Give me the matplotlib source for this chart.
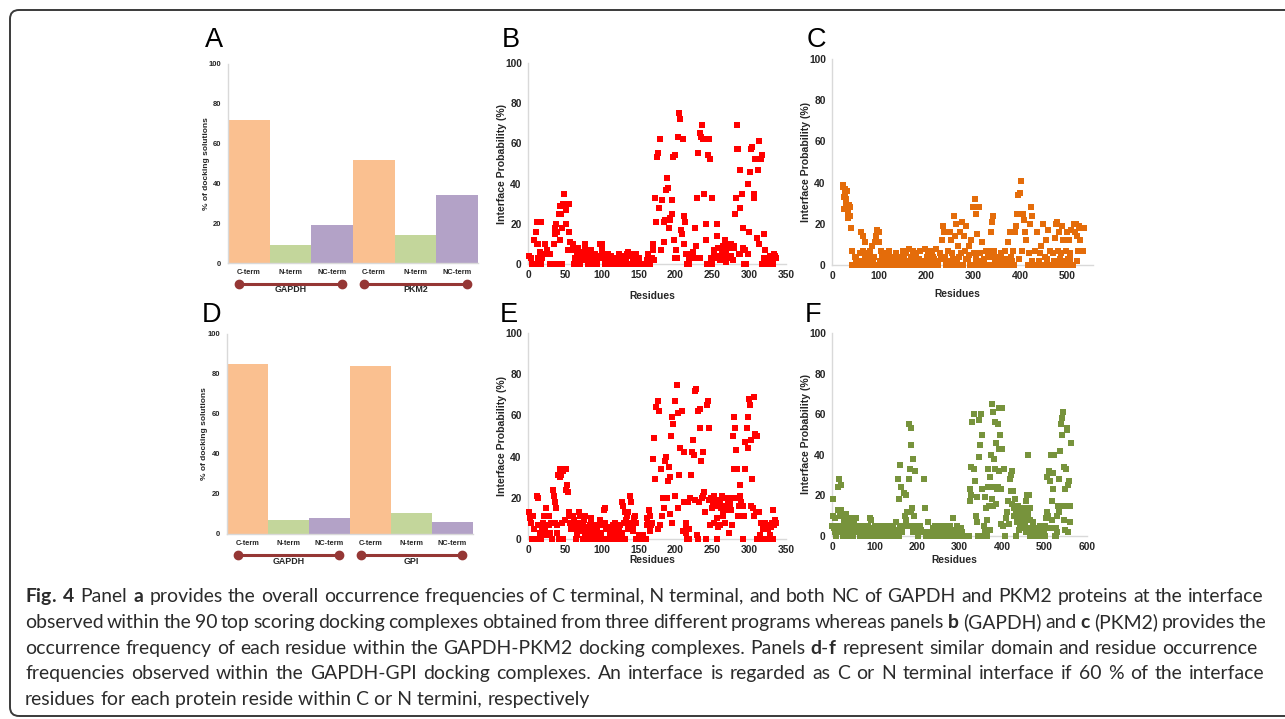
import numpy as np
import matplotlib
matplotlib.use("Agg")
import matplotlib.pyplot as plt
from matplotlib.patches import FancyBboxPatch
from matplotlib.transforms import IdentityTransform

W, H = 1285, 719
plt.rcParams['font.family'] = ['Liberation Sans', 'DejaVu Sans']
plt.rcParams['mathtext.fontset'] = 'custom'
plt.rcParams['mathtext.rm'] = 'Lato'
plt.rcParams['mathtext.bf'] = 'Lato:bold'

# ---- data ----
term_labels = ['C-term', 'N-term', 'NC-term']
bar_colors = ['#FAC090', '#C3D69B', '#B3A2C7']

a_groups = ['GAPDH', 'PKM2']
a_values = [72, 9, 19, 52, 14, 34]

d_groups = ['GAPDH', 'GPI']
d_values = [85, 7, 8, 84, 10.5, 6]

# panel B: GAPDH residues (GAPDH-PKM2)
b_pts = [(2,4),(4,3),(5,0),(10,0),(8,12),(11,16),(12,21),(17,21),(12,10),(14,10),(16,6),(14,3),(18,0),(19,3),
         (21,5),(23,10),(26,7),(27,5),(30,5),(30,0),(34,0),(35,10),(36,15),(37,18),(38,20),(40,16),(42,25),(43,12),
         (45,25),(44,29),(46,18),(42,0),(46,0),(47,30),(49,35),(51,30),(52,20),(52,27),(55,30),(56,16),(54,7),(57,11),
         (58,7),(61,10),(62,8),(64,3),(66,5),(66,2),(67,0),(70,5),(71,0),(72,3),(75,6),(77,10),(78,8),(80,3),(81,0),
         (83,5),(85,3),(88,0),(90,3),(93,0),(95,3),(98,10),(100,7),(102,5),(103,3),(105,0),(107,2),(110,0),(112,2),
         (115,0),(118,3),(121,0),(123,3),(126,4),(129,2),(131,0),(133,3),(136,6),(139,4),(142,5),(145,0),(148,2),
         (151,0),(155,0),(158,0),(161,2),(163,5),(166,3),(169,7),(170,10),(172,33),(173,21),(175,53),(176,55),(178,28),
         (179,62),(181,7),(182,32),(184,21),(185,11),(186,22),(187,37),(188,43),(190,38),(191,18),(192,23),(193,22),
         (195,25),(196,32),(197,53),(198,12),(200,54),(201,7),(202,3),(204,63),(205,75),(206,72),(207,17),(209,15),
         (210,62),(211,24),(212,10),(213,21),(215,5),(218,2),(219,0),(220,3),(222,5),(224,6),(227,18),(228,9),(229,33),
         (231,55),(233,3),(234,65),(235,63),(236,69),(238,62),(239,35),(241,20),(242,12),(243,0),(244,54),(245,62),
         (247,52),(248,3),(249,33),(252,5),(253,7),(255,3),(256,20),(257,14),(258,8),(261,2),(263,5),(264,7),(266,2),
         (267,12),(269,5),(270,8),(272,3),(274,8),(276,10),(278,2),(280,8),(281,25),(282,33),(283,57),(284,69),(285,57),
         (287,47),(288,28),(288,5),(290,35),(291,18),(292,8),(294,7),(296,0),(298,5),(299,40),(300,16),(301,46),(303,57),
         (304,58),(306,33),(307,35),(308,52),(310,13),(312,47),(313,61),(314,10),(316,52),(317,54),(318,0),(320,15),
         (322,7),(324,0),(326,3),(328,4),(331,2),(333,0),(335,4),(336,3),
         (62,0),(68,8),(74,2),(79,5),(86,7),(91,5),(97,4),(101,10),(108,5),(113,4),(119,0),(124,5),(127,0),(134,5),
         (140,0),(143,3),(146,5),(150,3),(165,0),(168,3),(171,2),(200,3),(216,0),(225,3),(250,0),(260,4),(265,9),
         (268,1),(271,9),(275,4),(279,9),(286,5),(293,0),(320,3),(327,0),(330,4),(334,5)]

# panel C: PKM2 residues (GAPDH-PKM2)
c_pts = [(23,39),(27,37),(28,34),(26,27),(30,32),(33,25),(34,23),(36,29),(39,28),(38,24),(41,18),(43,7),(43,0),
         (48,4),(53,0),(59,6),(62,16),(65,14),(66,7),(67,0),(71,11),(73,6),(77,4),(80,7),(84,9),(87,3),(91,11),(93,14),
         (96,17),(99,16),(100,0),(101,11),(105,7),(107,4),(110,0),(114,6),(117,3),(121,7),(124,0),(128,4),(132,2),
         (137,6),(140,0),(144,4),(150,7),(152,2),(157,6),(160,0),(164,8),(169,4),(172,7),(176,0),(179,6),(184,3),
         (188,7),(192,0),(197,8),(201,4),(204,7),(208,0),(212,7),(216,3),(221,8),(226,0),(229,6),(233,12),(235,19),
         (238,16),(240,4),(243,0),(247,7),(250,16),(254,12),(256,6),(259,24),(261,14),(263,20),(266,3),(268,9),(272,16),
         (274,6),(277,21),(280,14),(282,7),(286,19),(289,3),(291,9),(294,0),(296,12),(299,28),(301,6),(304,32),(307,25),
         (309,15),(312,28),(314,6),(318,11),(320,0),(323,3),(327,7),(330,0),(332,4),(335,7),(338,16),(340,21),(343,24),
         (345,7),(347,3),(350,0),(353,4),(357,0),(360,6),(364,3),(367,7),(371,0),(374,11),(378,16),(381,4),(385,7),
         (389,16),(392,19),(394,25),(396,34),(399,35),(401,41),(404,7),(406,25),(408,22),(411,16),(413,12),(416,0),
         (418,6),(421,20),(423,28),(425,24),(428,0),(431,7),(435,16),(438,0),(442,6),(445,9),(449,20),(452,4),(455,12),
         (457,0),(460,17),(463,7),(467,0),(470,6),(474,13),(476,20),(479,21),(481,7),(483,16),(486,6),(489,19),(491,12),
         (494,0),(497,7),(499,16),(502,3),(504,12),(507,6),(509,17),(511,0),(514,20),(516,16),(518,20),(521,14),(523,7),
         (525,19),(528,12),(530,18),(534,7),(535,18),
         (25,33),(29,30),(31,36),(35,27),(24,38),
         (45,0),(50,3),(56,0),(60,2),(63,0),(70,3),(75,0),(82,2),(85,0),(90,4),(95,0),(103,2),(112,0),(115,3),(119,0),
         (126,2),(130,0),(134,3),(138,0),(142,2),(147,0),(154,3),(162,2),(166,0),(174,3),(182,0),(186,3),(190,2),
         (195,0),(199,2),(206,3),(210,0),(214,4),(218,2),(223,0),(231,3),(245,2),(252,0),(258,3),(265,0),(270,4),
         (279,0),(284,3),(292,5),(298,0),(306,3),(311,0),(316,2),(325,0),(340,0),(344,4),(355,2),(362,0),(369,3),
         (376,0),(383,2),(388,0),(398,3),(420,0),(425,2),(432,0),(440,2),(447,0),(458,3),(465,0),(472,2),(480,0),
         (485,3),(492,2),(500,0),(506,3),(513,0),(520,2)]

# panel E: GAPDH residues (GAPDH-GPI)
e_pts = [(2,13),(3,10),(4,8),(5,0),(8,5),(10,0),(12,21),(14,20),(13,7),(16,3),(18,0),(19,5),(20,8),(22,11),(23,5),
         (25,15),(26,11),(27,2),(28,7),(29,11),(30,3),(33,0),(34,24),(35,21),(36,8),(37,18),(38,15),(39,7),(41,31),
         (42,0),(43,30),(44,34),(45,31),(46,8),(47,0),(48,33),(49,34),(51,24),(52,34),(53,26),(54,23),(55,11),(56,13),
         (57,8),(60,7),(61,11),(63,5),(65,8),(65,0),(67,5),(69,13),(71,11),(72,7),(74,0),(75,8),(77,3),(78,11),(80,5),
         (81,0),(84,7),(85,8),(87,3),(89,0),(91,5),(93,7),(96,0),(98,2),(100,7),(103,14),(105,15),(106,5),(108,0),
         (111,3),(112,5),(115,7),(117,0),(120,5),(122,2),(124,5),(126,0),(127,18),(129,16),(130,8),(131,13),(132,0),
         (134,11),(135,5),(137,7),(139,21),(140,18),(141,8),(143,7),(145,11),(146,8),(148,0),(150,2),(153,0),(156,2),
         (159,0),(161,7),(163,8),(164,14),(165,11),(166,4),(167,7),(168,8),(170,39),(171,49),(172,29),(174,64),(176,67),
         (177,5),(178,62),(179,7),(181,34),(182,11),(183,20),(185,15),(186,38),(187,40),(188,20),(190,28),(191,35),
         (192,30),(193,12),(194,50),(195,59),(196,8),(197,56),(199,21),(200,67),(202,75),(203,61),(204,15),(205,31),
         (206,44),(209,62),(210,4),(211,42),(212,18),(214,8),(215,3),(215,7),(217,18),(218,5),(220,20),(221,31),(223,42),
         (224,48),(225,41),(227,72),(228,73),(229,2),(230,62),(232,18),(233,63),(234,54),(235,38),(237,21),(238,42),
         (239,23),(240,13),(242,0),(243,65),(244,67),(245,54),(247,7),(248,20),(250,15),(252,21),(253,8),(255,16),
         (256,10),(257,0),(259,19),(261,7),(262,15),(263,21),(264,11),(266,20),(267,8),(269,16),(270,15),(272,3),
         (274,17),(275,20),(277,7),(278,50),(279,34),(280,59),(281,54),(282,43),(283,34),(284,20),(285,11),(287,26),
         (288,21),(289,18),(290,16),(291,0),(293,11),(294,34),(295,47),(297,54),(298,59),(299,44),(300,68),(301,65),
         (303,48),(304,29),(305,15),(306,11),(307,69),(308,51),(310,50),(311,0),(313,13),(315,2),(316,8),(318,0),
         (319,5),(322,8),(323,0),(325,5),(327,7),(328,2),(331,8),(333,14),(334,7),(336,8),
         (7,11),(15,0),(21,2),(31,8),(40,3),(50,9),(58,5),(62,9),(66,2),(70,8),(73,4),(76,9),(79,2),(82,6),(86,10),
         (88,5),(90,2),(94,5),(97,9),(99,3),(101,0),(104,8),(110,6),(114,2),(118,8),(121,0),(125,7),(128,3),(133,9),
         (136,13),(142,4),(144,10),(147,0),(151,0),(155,1),(158,0),(160,0),(162,10),(216,0),(219,0),(226,19),(231,0),
         (236,20),(241,0),(246,19),(251,17),(254,19),(258,6),(260,17),(265,13),(268,14),(271,18),(273,20),(276,14),
         (286,16),(292,16),(302,16),(309,13),(317,0),(321,0),(326,0),(329,6),(332,0),(335,9)]

# panel F: GPI residues (GAPDH-GPI)
f_pts = [(2,18),(5,4),(7,9),(10,0),(13,13),(15,24),(17,28),(20,25),(22,13),(24,5),(27,0),(29,9),(31,4),(34,11),
         (36,5),(38,0),(42,9),(44,4),(47,8),(49,0),(53,5),(57,9),(61,2),(65,0),(69,4),(73,5),(77,0),(81,3),(85,5),
         (89,9),(93,0),(96,4),(100,5),(104,0),(108,3),(112,5),(116,0),(120,5),(124,3),(128,0),(132,5),(136,3),(140,0),
         (144,5),(147,3),(151,7),(155,28),(158,18),(161,35),(163,24),(166,5),(169,21),(171,10),(173,20),(176,12),
         (178,5),(180,28),(182,55),(183,33),(185,53),(187,45),(189,14),(191,38),(193,10),(196,32),(198,5),(202,0),
         (206,5),(210,3),(216,28),(218,14),(222,0),(227,7),(231,0),(238,4),(242,5),(245,0),(249,5),(253,3),(257,5),
         (261,0),(265,5),(269,3),(273,0),(277,5),(281,3),(285,9),(289,0),(293,5),(296,3),(300,0),(304,4),(308,0),
         (312,0),(316,0),(320,0),(324,17),(325,23),(328,34),(330,56),(333,60),(334,33),(336,27),(340,19),(342,7),
         (345,39),(347,57),(348,45),(351,60),(352,23),(354,50),(357,5),(359,19),(362,14),(364,0),(366,24),(368,33),
         (371,29),(373,40),(376,18),(377,65),(379,61),(380,38),(383,56),(384,33),(387,46),(388,23),(391,55),(392,43),
         (394,63),(396,50),(398,23),(400,63),(402,5),(404,33),(406,0),(410,9),(414,17),(418,28),(421,30),(423,32),
         (426,22),(428,14),(431,18),(434,0),(436,7),(438,15),(442,5),(444,12),(446,4),(449,10),(452,14),(454,5),
         (456,17),(459,20),(460,40),(462,4),(465,14),(467,0),(471,4),(473,7),(477,0),(481,4),(485,0),(489,5),(493,0),
         (496,3),(500,5),(503,9),(505,12),(507,29),(510,32),(512,27),(515,40),(517,17),(519,23),(522,40),(524,0),
         (526,4),(529,10),(532,15),(534,28),(537,42),(539,55),(540,50),(542,58),(544,61),(546,34),(547,15),(549,23),
         (551,33),(552,53),(554,52),(556,2),(558,27),(559,7),(562,46),
         (0,5),(3,10),(8,2),(12,5),(16,2),(18,10),(21,5),(25,2),(28,8),(32,2),(35,7),(39,5),(41,2),(45,6),(48,2),
         (51,8),(55,2),(59,5),(63,2),(67,3),(71,2),(75,5),(79,2),(83,0),(87,2),(91,8),(95,2),(98,0),(102,2),(106,5),
         (110,2),(114,3),(118,0),(122,2),(126,5),(130,2),(134,0),(138,2),(142,2),(146,0),(150,2),(153,3),(157,0),
         (160,5),(164,2),(175,8),(180,5),(185,12),(190,2),(194,5),(200,2),(204,5),(208,2),(212,2),(220,2),(225,0),
         (233,2),(236,0),(240,2),(247,0),(251,2),(255,5),(260,2),(263,0),(267,2),(271,5),(275,2),(279,0),(283,2),
         (287,0),(291,2),(294,0),(298,2),(302,0),(306,2),(310,0),(314,0),(318,0),(322,0),(327,20),(338,10),(343,0),
         (350,0),(355,0),(361,3),(365,8),(369,15),(372,3),(378,15),(382,24),(386,16),(390,24),(393,32),(397,6),
         (399,43),(408,0),(412,12),(416,6),(420,22),(424,16),(429,10),(432,12),(437,12),(440,3),(443,9),(447,12),
         (450,6),(453,8),(457,2),(461,11),(463,20),(466,8),(469,2),(475,2),(479,0),(483,2),(487,0),(491,2),(495,0),
         (498,2),(502,0),(508,10),(513,4),(518,8),(521,31),(527,0),(530,2),(535,12),(545,8),(548,3),(555,25),(560,15)]

# caption; words in $\mathbf{}$ are bold
caption_lines = [
    r"$\mathbf{Fig.}$ $\mathbf{4}$ Panel $\mathbf{a}$ provides the overall occurrence frequencies of C terminal, N terminal, and both NC of GAPDH and PKM2 proteins at the interface",
    r"observed within the 90 top scoring docking complexes obtained from three different programs whereas panels $\mathbf{b}$ (GAPDH) and $\mathbf{c}$ (PKM2) provides the",
    r"occurrence frequency of each residue within the GAPDH-PKM2 docking complexes. Panels $\mathbf{d}$-$\mathbf{f}$ represent similar domain and residue occurrence",
    r"frequencies observed within the GAPDH-GPI docking complexes. An interface is regarded as C or N terminal interface if 60 % of the interface",
    "residues for each protein reside within C or N termini, respectively",
]
caption_right = [1264, 1266, 1257, 1265, None]

AXIS_GRAY = '#d9d9d9'
TXT = '#262626'
DARK_RED = '#953735'

fig = plt.figure(figsize=(W / 100, H / 100), dpi=100)
renderer = fig.canvas.get_renderer()


def rect(x0, y0, x1, y1):
    # pixel box, origin top-left -> figure fraction
    return [x0 / W, 1 - y1 / H, (x1 - x0) / W, (y1 - y0) / H]


def ftext(x, y, s, **kw):
    return fig.text(x / W, 1 - y / H, s, **kw)


def style_axes(ax, tick_size):
    for s in ['top', 'right']:
        ax.spines[s].set_visible(False)
    for s in ['left', 'bottom']:
        ax.spines[s].set_color(AXIS_GRAY)
        ax.spines[s].set_linewidth(1.0)
    ax.tick_params(length=0, labelsize=tick_size, colors=TXT)
    for lab in ax.get_xticklabels() + ax.get_yticklabels():
        lab.set_fontweight('bold')
    ax.set_facecolor('none')


def bar_panel(box, values, groups, letter, letter_xy):
    ax = fig.add_axes(rect(*box))
    xs = np.arange(len(values))
    ax.bar(xs, values, width=1.0, color=bar_colors * 2, linewidth=0)
    ax.set_xlim(-0.5, 5.5)
    ax.set_ylim(0, 100)
    ax.set_yticks(range(0, 101, 20))
    ax.set_xticks(xs)
    ax.set_xticklabels(term_labels * 2)
    style_axes(ax, 5.5)
    ax.tick_params(axis='x', labelsize=5.3, pad=4)
    ax.tick_params(axis='y', pad=5)
    hpx = box[3] - box[1]
    for gi, g in enumerate(groups):
        c = 1 + 3 * gi
        ax.plot([c - 1.23, c + 1.23], [-21 / hpx * 100] * 2, color=DARK_RED, lw=2.2,
                marker='o', ms=6, clip_on=False)
        ax.text(c, -27 / hpx * 100, g, ha='center', va='center', fontsize=6.4,
                fontweight='bold', color=TXT, clip_on=False)
    ftext(box[0] - 22, (box[1] + box[3]) / 2, '% of docking solutions', rotation=90,
          ha='center', va='center', fontsize=6, fontweight='bold', color=TXT)
    ftext(*letter_xy, letter, fontsize=19.5, ha='left', va='baseline', color='black')
    return ax


def scatter_panel(box, pts, color, xmax, xticks, letter, letter_xy, xlab_y):
    ax = fig.add_axes(rect(*box))
    xs = [p[0] for p in pts]
    ys = [p[1] for p in pts]
    ax.scatter(xs, ys, marker='s', s=23, color=color, linewidths=0, clip_on=False, zorder=3)
    ax.set_xlim(0, xmax)
    ax.set_ylim(0, 100)
    ax.set_xticks(xticks)
    ax.set_yticks(range(0, 101, 20))
    style_axes(ax, 7.4)
    ax.tick_params(axis='x', pad=4.5)
    ax.tick_params(axis='y', pad=4.5)
    ftext(box[0] - 26, (box[1] + box[3]) / 2, 'Interface Probability (%)', rotation=90,
          ha='center', va='center', fontsize=7.6, fontweight='bold', color=TXT)
    ftext((box[0] + box[2]) / 2 - 5, xlab_y, 'Residues', ha='center', va='center',
          fontsize=7.4, fontweight='bold', color=TXT)
    ftext(*letter_xy, letter, fontsize=19.5, ha='left', va='baseline', color='black')
    return ax


# outer rounded frame (runs off the right edge)
frame = FancyBboxPatch((10, H - 716), 1320, 706, boxstyle='round,pad=0,rounding_size=9',
                       transform=IdentityTransform(), facecolor='none',
                       edgecolor='#3a3a3a', linewidth=1.4)
fig.patches.append(frame)

bar_panel((228, 64, 478, 263), a_values, a_groups, 'A', (205, 47))
scatter_panel((528, 63, 786, 264), b_pts, '#FF0000', 350, range(0, 351, 50), 'B', (502, 47), 296)
scatter_panel((832, 59, 1093, 265), c_pts, '#E46C0A', 555, range(0, 501, 100), 'C', (807, 47), 294)
bar_panel((227, 334, 473, 534), d_values, d_groups, 'D', (202, 322))
scatter_panel((528, 333, 786, 539), e_pts, '#FF0000', 350, range(0, 351, 50), 'E', (500, 322), 560)
scatter_panel((832, 333, 1087, 536), f_pts, '#77933C', 600, range(0, 601, 100), 'F', (805, 322), 560)

# ---- caption: justified, word by word ----
cap_kw = dict(family='Lato', color='#2b2b2b', ha='left', va='baseline')
CAP_X, CAP_Y0, CAP_STEP = 25, 602, 25.8
DESC = set('gjpqy')


def split_chunks(line):
    # a word whose only descender is a comma sits low when drawn alone,
    # so keep it together with earlier words until the chunk has a real descender
    chunks = []
    for wd in line.split(' '):
        if ',' in wd and not (DESC & set(wd)):
            merged = [wd]
            while chunks and not (DESC & set(' '.join(merged))):
                merged.insert(0, chunks.pop())
            chunks.append(' '.join(merged))
        else:
            chunks.append(wd)
    return chunks


def widths_of(chunks, size):
    out = []
    for c in chunks:
        t = ftext(0, 0, c, fontsize=size, **cap_kw)
        out.append(t.get_window_extent(renderer).width)
        t.remove()
    return out


probe = 14.0
space_px = widths_of(['a a'], probe)[0] - widths_of(['aa'], probe)[0]
need = 0.0
have = 0.0
for line, right in zip(caption_lines, caption_right):
    if right is None:
        continue
    words = line.split(' ')
    need += right - CAP_X
    have += sum(widths_of(words, probe)) + space_px * (len(words) - 1)
cap_size = probe * need / have
space_px *= cap_size / probe

for i, (line, right) in enumerate(zip(caption_lines, caption_right)):
    chunks = split_chunks(line)
    widths = widths_of(chunks, cap_size)
    if right is None:
        gap = space_px
    else:
        gap = (right - CAP_X - sum(widths)) / (len(chunks) - 1)
    x = CAP_X
    y = CAP_Y0 + CAP_STEP * i
    for c, w in zip(chunks, widths):
        ftext(x, y, c, fontsize=cap_size, **cap_kw)
        x += w + gap

fig.savefig('out.png', dpi=100)
